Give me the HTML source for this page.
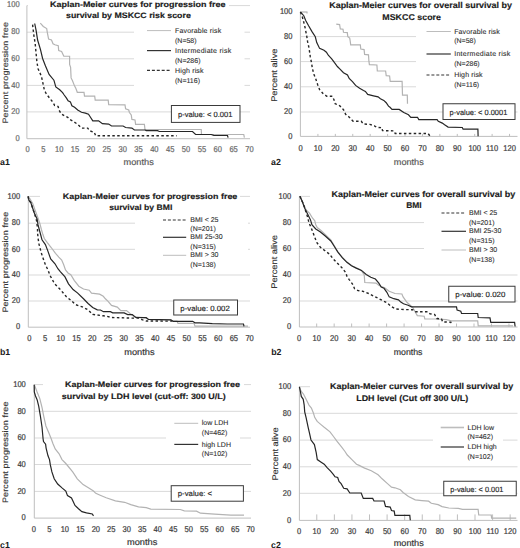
<!DOCTYPE html>
<html><head><meta charset="utf-8"><style>
html,body{margin:0;padding:0;background:#fff;overflow:hidden;}
svg{display:block;}
text{font-family:"Liberation Sans", sans-serif;text-rendering:geometricPrecision;}
.gl{stroke:#d9d9d9;stroke-width:1;}
.ax{stroke:#bfbfbf;stroke-width:1;}
.tk{font-size:8.4px;fill:#3d3d3d;stroke:#3d3d3d;stroke-width:0.22px;}
.yl{font-size:8.2px;fill:#333333;stroke:#333333;stroke-width:0.15px;}
.ti{font-weight:bold;fill:#1a1a1a;stroke:#1a1a1a;stroke-width:0.15px;}
.lg{font-size:7px;fill:#2e2e2e;stroke:#2e2e2e;stroke-width:0.1px;}
.pv{font-size:7.2px;fill:#262626;stroke:#262626;stroke-width:0.15px;}
.mo{font-size:7.6px;fill:#363636;stroke:#363636;stroke-width:0.2px;}
.pa1 .tk{fill:#6a6a6a;stroke:#6a6a6a;}
.pa1 .mo,.pa2 .mo{fill:#5a5a5a;stroke:#5a5a5a;}
.pa1 .yl{fill:#3c3c3c;stroke:#3c3c3c;}
.tag{font-size:8.8px;font-weight:bold;fill:#1a1a1a;}
.cg{fill:none;stroke:#b3b3b3;stroke-width:1.2;}
.cb{fill:none;stroke:#262626;stroke-width:1.2;}
.cd{fill:none;stroke:#262626;stroke-width:1.4;stroke-dasharray:2.5,2.4;}
</style></head>
<body><svg width="520" height="548" viewBox="0 0 520 548">
<g id="a1" class="pa1">
<line x1="26.9" y1="111.90" x2="250" y2="111.90" class="gl"/>
<line x1="26.9" y1="85.40" x2="250" y2="85.40" class="gl"/>
<line x1="26.9" y1="58.80" x2="250" y2="58.80" class="gl"/>
<line x1="26.9" y1="32.20" x2="250" y2="32.20" class="gl"/>
<line x1="26.9" y1="5.60" x2="250" y2="5.60" class="gl"/>
<rect x="28" y="0" width="201" height="11" fill="#fff"/>
<rect x="40" y="11" width="160" height="12" fill="#fff"/>
<rect x="134" y="24" width="110.5" height="66" fill="#fff"/>
<line x1="26.9" y1="5.6" x2="26.9" y2="138.7" class="ax"/>
<line x1="26.9" y1="138.7" x2="250" y2="138.7" class="ax"/>
<polyline class="cg" points="40.30,23.20 43.30,26.50 46.70,28.50 47.20,31.80 48.60,39.00 51.50,40.00 53.00,43.80 54.90,44.80 58.25,45.80 58.70,50.60 61.60,51.50 63.50,55.40 63.80,56.25 69.60,56.25 69.60,64.40 70.60,67.30 71.10,77.90 72.50,80.80 74.40,85.60 75.90,88.50 77.30,92.30 84.00,92.30 84.50,96.20 94.70,96.20 95.20,100.10 108.20,100.10 108.70,104.60 125.00,104.90 125.60,108.75 128.75,110.00 129.40,112.50 131.25,115.00 131.90,119.40 135.00,120.00 135.60,124.40 144.40,124.40 145.00,129.50 201.25,129.50 201.50,134.50 243.75,134.50 244.40,137.60"/>
<polyline class="cb" points="34.70,23.50 36.10,30.40 37.60,40.00 40.50,49.60 42.60,58.50 45.50,66.00 49.10,74.40 53.90,80.20 55.80,86.90 59.70,89.80 62.60,92.70 64.20,95.00 66.50,98.10 68.10,100.80 70.40,101.90 71.90,105.80 74.60,107.30 77.70,110.00 81.50,112.30 85.40,113.10 88.50,114.20 90.00,116.50 92.80,120.80 98.60,120.80 102.40,123.70 108.70,124.10 111.50,126.00 123.10,126.00 125.60,127.50 131.90,128.10 134.40,130.00 145.00,130.00 146.25,130.60 157.50,130.60 159.40,131.50 192.50,131.50 195.60,134.50 211.25,134.50 213.75,135.30 227.50,135.50 228.10,137.60"/>
<polyline class="cd" points="32.60,24.60 33.70,34.20 35.20,43.80 36.10,53.50 36.90,62.00 38.10,68.70 41.40,76.30 42.90,83.10 44.30,89.80 46.20,93.70 50.40,99.20 52.70,101.90 54.60,105.40 58.10,106.50 59.20,110.40 61.20,113.80 64.60,115.80 67.70,117.30 70.00,119.60 73.10,121.20 76.50,123.50 79.20,125.80 81.50,128.10 87.70,128.10 89.60,130.80 94.20,132.30 95.70,135.80 176.60,135.80"/>
<g transform="translate(19.7,140.90) scale(0.9,1)"><text text-anchor="end" class="tk">0</text></g>
<g transform="translate(19.7,114.10) scale(0.9,1)"><text text-anchor="end" class="tk">20</text></g>
<g transform="translate(19.7,87.60) scale(0.9,1)"><text text-anchor="end" class="tk">40</text></g>
<g transform="translate(19.7,61.00) scale(0.9,1)"><text text-anchor="end" class="tk">60</text></g>
<g transform="translate(19.7,34.40) scale(0.9,1)"><text text-anchor="end" class="tk">80</text></g>
<g transform="translate(19.7,6.60) scale(0.9,1)"><text text-anchor="end" class="tk">100</text></g>
<g transform="translate(27.50,151.90) scale(0.9,1)"><text text-anchor="middle" class="tk">0</text></g>
<g transform="translate(43.35,151.90) scale(0.9,1)"><text text-anchor="middle" class="tk">5</text></g>
<g transform="translate(59.21,151.90) scale(0.9,1)"><text text-anchor="middle" class="tk">10</text></g>
<g transform="translate(75.06,151.90) scale(0.9,1)"><text text-anchor="middle" class="tk">15</text></g>
<g transform="translate(90.92,151.90) scale(0.9,1)"><text text-anchor="middle" class="tk">20</text></g>
<g transform="translate(106.77,151.90) scale(0.9,1)"><text text-anchor="middle" class="tk">25</text></g>
<g transform="translate(122.63,151.90) scale(0.9,1)"><text text-anchor="middle" class="tk">30</text></g>
<g transform="translate(138.49,151.90) scale(0.9,1)"><text text-anchor="middle" class="tk">35</text></g>
<g transform="translate(154.34,151.90) scale(0.9,1)"><text text-anchor="middle" class="tk">40</text></g>
<g transform="translate(170.19,151.90) scale(0.9,1)"><text text-anchor="middle" class="tk">45</text></g>
<g transform="translate(186.05,151.90) scale(0.9,1)"><text text-anchor="middle" class="tk">50</text></g>
<g transform="translate(201.91,151.90) scale(0.9,1)"><text text-anchor="middle" class="tk">55</text></g>
<g transform="translate(217.76,151.90) scale(0.9,1)"><text text-anchor="middle" class="tk">60</text></g>
<g transform="translate(233.61,151.90) scale(0.9,1)"><text text-anchor="middle" class="tk">65</text></g>
<g transform="translate(249.47,151.90) scale(0.9,1)"><text text-anchor="middle" class="tk">70</text></g>
<g transform="translate(7.8,123.6) rotate(-90)"><g transform="translate(0.00,0.00) scale(1.1500,1)"><text x="0" y="0" textLength="88.35" lengthAdjust="spacing" class="yl" style="font-size:7.8px">Percent progression free</text></g></g>
<g transform="translate(50.00,6.90) scale(1.1350,1)"><text x="0" y="0" textLength="154.54" lengthAdjust="spacing" class="ti" style="font-size:7.9px">Kaplan-Meier curves for progression free</text></g>
<g transform="translate(66.00,18.30) scale(1.1146,1)"><text x="0" y="0" textLength="111.97" lengthAdjust="spacing" class="ti" style="font-size:7.9px">survival by MSKCC risk score</text></g>
<line x1="147" y1="30.6" x2="171" y2="30.6" stroke="#bdbdbd" stroke-width="1"/>
<text x="175" y="32.70" class="lg" textLength="46.2" lengthAdjust="spacing">Favorable risk</text>
<text x="175" y="42.70" class="lg">(N=58)</text>
<line x1="147" y1="50.6" x2="171" y2="50.6" stroke="#333333" stroke-width="1.2"/>
<text x="175" y="52.70" class="lg" textLength="56.2" lengthAdjust="spacing">Intermediate risk</text>
<text x="175" y="62.70" class="lg">(N=286)</text>
<line x1="147" y1="70.4" x2="171" y2="70.4" stroke="#333333" stroke-width="1.1" stroke-dasharray="3,1.9"/>
<text x="175" y="72.50" class="lg" textLength="28.5" lengthAdjust="spacing">High risk</text>
<text x="175" y="82.50" class="lg">(N=116)</text>
<rect x="171.4" y="105.5" width="68.60" height="16.90" fill="#fff" stroke="#3a3a3a" stroke-width="1"/>
<g transform="translate(178.00,116.95) scale(0.9942,1)"><text x="0" y="0" textLength="54.72" lengthAdjust="spacing" class="pv" style="font-size:7.6px">p-value: &lt; 0.001</text></g>
<g transform="translate(123.60,165.00) scale(1.0465,1)"><text x="0" y="0" textLength="28.86" lengthAdjust="spacing" class="mo" style="font-size:8.8px">months</text></g>
<text x="0" y="164.5" class="tag">a1</text>
</g>
<g id="a2" class="pa2">
<line x1="300.4" y1="112.00" x2="517.5" y2="112.00" class="gl"/>
<line x1="300.4" y1="86.80" x2="517.5" y2="86.80" class="gl"/>
<line x1="300.4" y1="61.60" x2="517.5" y2="61.60" class="gl"/>
<line x1="300.4" y1="36.60" x2="517.5" y2="36.60" class="gl"/>
<line x1="300.4" y1="12.00" x2="517.5" y2="12.00" class="gl"/>
<line x1="317.92" y1="133.90" x2="317.92" y2="136.40" class="ax"/>
<line x1="335.34" y1="133.90" x2="335.34" y2="136.40" class="ax"/>
<line x1="352.76" y1="133.90" x2="352.76" y2="136.40" class="ax"/>
<line x1="370.18" y1="133.90" x2="370.18" y2="136.40" class="ax"/>
<line x1="387.60" y1="133.90" x2="387.60" y2="136.40" class="ax"/>
<line x1="405.02" y1="133.90" x2="405.02" y2="136.40" class="ax"/>
<line x1="422.44" y1="133.90" x2="422.44" y2="136.40" class="ax"/>
<line x1="439.86" y1="133.90" x2="439.86" y2="136.40" class="ax"/>
<line x1="457.28" y1="133.90" x2="457.28" y2="136.40" class="ax"/>
<line x1="474.70" y1="133.90" x2="474.70" y2="136.40" class="ax"/>
<line x1="492.12" y1="133.90" x2="492.12" y2="136.40" class="ax"/>
<line x1="509.54" y1="133.90" x2="509.54" y2="136.40" class="ax"/>
<rect x="307" y="0" width="213" height="23.6" fill="#fff"/>
<rect x="416" y="23.6" width="104" height="68.4" fill="#fff"/>
<line x1="300.4" y1="12.0" x2="300.4" y2="136.4" class="ax"/>
<line x1="300.4" y1="136.4" x2="517.5" y2="136.4" class="ax"/>
<polyline class="cg" points="300.40,12.00 307.00,12.00 307.00,13.50"/>
<polyline class="cg" points="336.25,24.10 339.60,24.60 340.30,28.90 343.00,29.20 343.50,32.30 347.30,32.60 347.80,36.60 349.70,38.10 350.20,41.00 350.70,44.80 360.30,44.80 360.80,49.10 364.10,49.60 364.60,54.40 368.50,54.80 368.90,61.20 369.40,64.60 376.90,65.00 377.30,71.00 385.60,71.00 386.20,75.60 389.60,76.00 390.20,81.30 402.10,81.30 402.50,95.20 407.30,95.20 407.50,103.80"/>
<polyline class="cb" points="300.40,12.00 303.80,15.70 305.70,20.50 308.60,25.80 312.00,31.60 315.30,36.80 316.75,42.60 319.60,48.40 324.00,50.30 326.40,52.20 328.50,55.50 331.70,58.80 334.50,62.70 337.40,66.50 340.00,69.20 343.50,72.70 347.50,75.00 349.20,78.50 352.70,81.90 355.60,85.40 359.60,88.30 363.50,90.50 365.40,91.50 367.70,94.40 373.50,95.80 378.10,96.90 380.40,98.70 383.80,100.40 386.20,102.70 388.50,106.20 390.00,107.30 392.00,109.40 399.20,109.40 403.80,112.50 408.50,114.80 410.80,117.30 417.50,117.30 418.80,119.60 437.10,119.60 438.30,121.30 442.30,123.10 444.60,124.80 448.10,127.10 462.30,127.50 463.10,129.20 477.90,129.20 478.10,136.30"/>
<polyline class="cd" points="300.40,12.00 302.30,16.70 303.80,22.40 305.20,28.20 306.70,35.90 307.60,41.70 309.10,48.40 310.30,56.90 311.50,62.70 312.40,68.50 313.90,74.20 315.80,79.00 317.70,84.80 319.60,89.60 323.00,93.50 326.80,96.30 332.30,96.30 334.00,99.80 335.20,103.80 338.70,105.00 341.50,107.30 343.80,110.20 345.60,114.20 348.50,116.50 351.90,120.00 353.10,121.20 361.20,121.20 363.50,124.00 369.80,124.40 374.40,125.80 376.70,127.30 381.90,127.70 382.50,130.60 394.00,130.90 395.20,133.50 428.10,133.50 429.80,135.80"/>
<g transform="translate(292.5,138.60) scale(0.9,1)"><text text-anchor="end" class="tk">0</text></g>
<g transform="translate(292.5,114.20) scale(0.9,1)"><text text-anchor="end" class="tk">20</text></g>
<g transform="translate(292.5,89.00) scale(0.9,1)"><text text-anchor="end" class="tk">40</text></g>
<g transform="translate(292.5,63.80) scale(0.9,1)"><text text-anchor="end" class="tk">60</text></g>
<g transform="translate(292.5,38.80) scale(0.9,1)"><text text-anchor="end" class="tk">80</text></g>
<g transform="translate(292.5,14.20) scale(0.9,1)"><text text-anchor="end" class="tk">100</text></g>
<g transform="translate(300.50,150.50) scale(0.9,1)"><text text-anchor="middle" class="tk">0</text></g>
<g transform="translate(317.92,150.50) scale(0.9,1)"><text text-anchor="middle" class="tk">10</text></g>
<g transform="translate(335.34,150.50) scale(0.9,1)"><text text-anchor="middle" class="tk">20</text></g>
<g transform="translate(352.76,150.50) scale(0.9,1)"><text text-anchor="middle" class="tk">30</text></g>
<g transform="translate(370.18,150.50) scale(0.9,1)"><text text-anchor="middle" class="tk">40</text></g>
<g transform="translate(387.60,150.50) scale(0.9,1)"><text text-anchor="middle" class="tk">50</text></g>
<g transform="translate(405.02,150.50) scale(0.9,1)"><text text-anchor="middle" class="tk">60</text></g>
<g transform="translate(422.44,150.50) scale(0.9,1)"><text text-anchor="middle" class="tk">70</text></g>
<g transform="translate(439.86,150.50) scale(0.9,1)"><text text-anchor="middle" class="tk">80</text></g>
<g transform="translate(457.28,150.50) scale(0.9,1)"><text text-anchor="middle" class="tk">90</text></g>
<g transform="translate(474.70,150.50) scale(0.9,1)"><text text-anchor="middle" class="tk">100</text></g>
<g transform="translate(492.12,150.50) scale(0.9,1)"><text text-anchor="middle" class="tk">110</text></g>
<g transform="translate(509.54,150.50) scale(0.9,1)"><text text-anchor="middle" class="tk">120</text></g>
<g transform="translate(276.9,101.8) rotate(-90)"><g transform="translate(0.00,0.00) scale(1.1223,1)"><text x="0" y="0" textLength="47.40" lengthAdjust="spacing" class="yl" style="font-size:8.2px">Percent alive</text></g></g>
<g transform="translate(329.20,8.10) scale(1.0669,1)"><text x="0" y="0" textLength="171.34" lengthAdjust="spacing" class="ti" style="font-size:8.4px">Kaplan-Meier curves for overall survival by</text></g>
<g transform="translate(382.30,19.50) scale(1.0567,1)"><text x="0" y="0" textLength="55.55" lengthAdjust="spacing" class="ti" style="font-size:8.4px">MSKCC score</text></g>
<line x1="426.5" y1="31.5" x2="450.8" y2="31.5" stroke="#bdbdbd" stroke-width="1"/>
<text x="454.2" y="33.60" class="lg" textLength="45.5" lengthAdjust="spacing">Favorable risk</text>
<text x="454.2" y="43.10" class="lg">(N=58)</text>
<line x1="426.5" y1="54" x2="450.8" y2="54" stroke="#333333" stroke-width="1.2"/>
<text x="454.2" y="56.10" class="lg" textLength="56.1" lengthAdjust="spacing">Intermediate risk</text>
<text x="454.2" y="65.60" class="lg">(N=286)</text>
<line x1="426.5" y1="75" x2="450.8" y2="75" stroke="#333333" stroke-width="1.1" stroke-dasharray="3,1.9"/>
<text x="454.2" y="77.10" class="lg" textLength="28.4" lengthAdjust="spacing">High risk</text>
<text x="454.2" y="86.60" class="lg">(N=116)</text>
<rect x="443" y="103.75" width="72.00" height="15.75" fill="#fff" stroke="#3a3a3a" stroke-width="1"/>
<g transform="translate(449.60,114.62) scale(0.9789,1)"><text x="0" y="0" textLength="58.94" lengthAdjust="spacing" class="pv" style="font-size:7.6px">p-value: &lt; 0.0001</text></g>
<g transform="translate(393.80,164.60) scale(1.0396,1)"><text x="0" y="0" textLength="28.86" lengthAdjust="spacing" class="mo" style="font-size:8.8px">months</text></g>
<text x="271" y="164.8" class="tag">a2</text>
</g>
<g id="b1" class="pb1">
<line x1="28.3" y1="301.00" x2="250" y2="301.00" class="gl"/>
<line x1="28.3" y1="275.00" x2="250" y2="275.00" class="gl"/>
<line x1="28.3" y1="249.30" x2="250" y2="249.30" class="gl"/>
<line x1="28.3" y1="223.20" x2="250" y2="223.20" class="gl"/>
<line x1="28.3" y1="196.40" x2="250" y2="196.40" class="gl"/>
<rect x="40" y="188" width="200" height="25" fill="#fff"/>
<rect x="135" y="213" width="113" height="57" fill="#fff"/>
<line x1="28.3" y1="196.4" x2="28.3" y2="327.2" class="ax"/>
<line x1="28.3" y1="327.2" x2="250" y2="327.2" class="ax"/>
<polyline class="cg" points="28.10,196.30 29.80,198.70 32.70,203.50 35.10,210.30 38.00,218.00 39.90,223.70 41.40,229.50 42.80,234.30 44.30,238.50 47.30,242.70 51.20,247.50 55.50,253.30 58.80,257.10 61.70,260.00 63.70,264.80 65.50,270.00 68.00,273.00 70.80,274.80 74.20,280.40 78.80,286.20 83.50,289.00 89.20,290.20 91.50,293.10 99.60,294.20 103.30,296.30 105.40,298.80 108.10,301.30 111.50,305.40 117.30,307.10 120.80,310.60 126.50,310.60 130.00,313.50 134.60,316.90 146.00,317.90 148.50,319.50 170.80,319.80 173.10,321.20 177.00,321.20 178.00,323.40 194.00,323.40 195.00,326.20 248.00,326.20"/>
<polyline class="cb" points="28.10,196.30 28.90,200.20 30.80,202.60 32.70,208.30 34.70,214.10 37.10,218.90 38.00,224.70 39.50,230.50 41.00,236.00 42.00,239.80 45.40,244.60 47.80,250.90 50.70,259.00 55.00,263.80 57.90,268.70 60.50,271.80 65.00,276.90 68.50,283.80 73.10,289.60 77.70,293.10 83.50,298.80 88.10,303.50 92.70,307.50 97.30,309.80 100.40,310.00 103.50,311.70 110.40,311.70 112.70,312.90 124.20,312.90 127.70,314.60 132.30,314.60 135.80,317.50 146.20,317.70 148.50,319.40 170.80,319.80 173.10,321.30 192.70,321.30 195.00,322.80 199.60,322.90 212.30,323.70 227.30,324.00 243.50,324.00 244.00,326.30"/>
<polyline class="cd" points="28.10,196.30 28.90,200.20 30.80,202.60 32.70,208.30 34.70,214.10 36.60,220.80 37.50,228.50 37.60,233.30 38.20,239.10 39.10,244.60 41.10,252.30 43.00,258.10 45.40,264.80 47.80,269.60 50.20,275.80 54.60,283.80 60.40,289.60 66.20,296.50 71.90,301.20 75.40,304.60 82.30,306.90 88.10,309.80 92.70,314.40 97.30,315.00 103.10,315.80 106.90,316.30 111.50,317.50 132.30,318.10 138.10,318.10 142.70,319.80 146.20,321.00 167.30,321.10 172.00,321.00"/>
<g transform="translate(20.2,329.40) scale(0.9,1)"><text text-anchor="end" class="tk">0</text></g>
<g transform="translate(20.2,303.20) scale(0.9,1)"><text text-anchor="end" class="tk">20</text></g>
<g transform="translate(20.2,277.20) scale(0.9,1)"><text text-anchor="end" class="tk">40</text></g>
<g transform="translate(20.2,251.50) scale(0.9,1)"><text text-anchor="end" class="tk">60</text></g>
<g transform="translate(20.2,225.40) scale(0.9,1)"><text text-anchor="end" class="tk">80</text></g>
<g transform="translate(20.2,198.60) scale(0.9,1)"><text text-anchor="end" class="tk">100</text></g>
<g transform="translate(29.25,340.50) scale(0.9,1)"><text text-anchor="middle" class="tk">0</text></g>
<g transform="translate(44.99,340.50) scale(0.9,1)"><text text-anchor="middle" class="tk">5</text></g>
<g transform="translate(60.73,340.50) scale(0.9,1)"><text text-anchor="middle" class="tk">10</text></g>
<g transform="translate(76.47,340.50) scale(0.9,1)"><text text-anchor="middle" class="tk">15</text></g>
<g transform="translate(92.21,340.50) scale(0.9,1)"><text text-anchor="middle" class="tk">20</text></g>
<g transform="translate(107.95,340.50) scale(0.9,1)"><text text-anchor="middle" class="tk">25</text></g>
<g transform="translate(123.69,340.50) scale(0.9,1)"><text text-anchor="middle" class="tk">30</text></g>
<g transform="translate(139.43,340.50) scale(0.9,1)"><text text-anchor="middle" class="tk">35</text></g>
<g transform="translate(155.17,340.50) scale(0.9,1)"><text text-anchor="middle" class="tk">40</text></g>
<g transform="translate(170.91,340.50) scale(0.9,1)"><text text-anchor="middle" class="tk">45</text></g>
<g transform="translate(186.65,340.50) scale(0.9,1)"><text text-anchor="middle" class="tk">50</text></g>
<g transform="translate(202.39,340.50) scale(0.9,1)"><text text-anchor="middle" class="tk">55</text></g>
<g transform="translate(218.13,340.50) scale(0.9,1)"><text text-anchor="middle" class="tk">60</text></g>
<g transform="translate(233.87,340.50) scale(0.9,1)"><text text-anchor="middle" class="tk">65</text></g>
<g transform="translate(249.61,340.50) scale(0.9,1)"><text text-anchor="middle" class="tk">70</text></g>
<g transform="translate(7.7,312.6) rotate(-90)"><g transform="translate(0.00,0.00) scale(1.1500,1)"><text x="0" y="0" textLength="87.65" lengthAdjust="spacing" class="yl" style="font-size:7.8px">Percent progression free</text></g></g>
<g transform="translate(62.80,198.90) scale(1.1292,1)"><text x="0" y="0" textLength="154.54" lengthAdjust="spacing" class="ti" style="font-size:7.9px">Kaplan-Meier curves for progression free</text></g>
<g transform="translate(109.20,210.30) scale(1.0888,1)"><text x="0" y="0" textLength="57.95" lengthAdjust="spacing" class="ti" style="font-size:7.9px">survival by BMI</text></g>
<line x1="163" y1="220" x2="186.2" y2="220" stroke="#333333" stroke-width="1.1" stroke-dasharray="3,1.9"/>
<text x="190.3" y="222.10" class="lg">BMI &lt; 25</text>
<text x="190.3" y="231.40" class="lg">(N=201)</text>
<line x1="163" y1="237.3" x2="186.2" y2="237.3" stroke="#333333" stroke-width="1.2"/>
<text x="190.3" y="239.40" class="lg">BMI 25-30</text>
<text x="190.3" y="248.70" class="lg">(N=315)</text>
<line x1="163" y1="255.3" x2="186.2" y2="255.3" stroke="#bdbdbd" stroke-width="1"/>
<text x="190.3" y="257.40" class="lg">BMI &gt; 30</text>
<text x="190.3" y="266.70" class="lg">(N=138)</text>
<rect x="173.75" y="300" width="63.75" height="15.00" fill="#fff" stroke="#3a3a3a" stroke-width="1"/>
<g transform="translate(180.35,310.50) scale(1.0256,1)"><text x="0" y="0" textLength="48.17" lengthAdjust="spacing" class="pv" style="font-size:7.6px">p-value: 0.002</text></g>
<g transform="translate(124.30,355.00) scale(1.0500,1)"><text x="0" y="0" textLength="28.86" lengthAdjust="spacing" class="mo" style="font-size:8.8px">months</text></g>
<text x="0" y="355.3" class="tag">b1</text>
</g>
<g id="b2" class="pb2">
<line x1="299.4" y1="301.00" x2="517.5" y2="301.00" class="gl"/>
<line x1="299.4" y1="275.00" x2="517.5" y2="275.00" class="gl"/>
<line x1="299.4" y1="248.50" x2="517.5" y2="248.50" class="gl"/>
<line x1="299.4" y1="222.60" x2="517.5" y2="222.60" class="gl"/>
<line x1="299.4" y1="196.40" x2="517.5" y2="196.40" class="gl"/>
<line x1="316.68" y1="323.50" x2="316.68" y2="327.00" class="ax"/>
<line x1="334.16" y1="323.50" x2="334.16" y2="327.00" class="ax"/>
<line x1="351.64" y1="323.50" x2="351.64" y2="327.00" class="ax"/>
<line x1="369.12" y1="323.50" x2="369.12" y2="327.00" class="ax"/>
<line x1="386.60" y1="323.50" x2="386.60" y2="327.00" class="ax"/>
<line x1="404.08" y1="323.50" x2="404.08" y2="327.00" class="ax"/>
<line x1="421.56" y1="323.50" x2="421.56" y2="327.00" class="ax"/>
<line x1="439.04" y1="323.50" x2="439.04" y2="327.00" class="ax"/>
<line x1="456.52" y1="323.50" x2="456.52" y2="327.00" class="ax"/>
<line x1="474.00" y1="323.50" x2="474.00" y2="327.00" class="ax"/>
<line x1="491.48" y1="323.50" x2="491.48" y2="327.00" class="ax"/>
<line x1="508.96" y1="323.50" x2="508.96" y2="327.00" class="ax"/>
<rect x="310" y="186" width="210" height="24" fill="#fff"/>
<rect x="424" y="205" width="96" height="61" fill="#fff"/>
<line x1="299.4" y1="196.4" x2="299.4" y2="327.0" class="ax"/>
<line x1="299.4" y1="327.0" x2="517.5" y2="327.0" class="ax"/>
<polyline class="cg" points="299.90,196.30 302.30,201.60 304.70,207.50 306.60,210.30 309.50,213.20 312.40,218.00 314.80,220.80 315.75,224.70 317.20,227.60 321.00,230.50 324.90,234.30 330.80,240.00 334.20,245.50 337.70,251.50 342.30,257.50 346.90,262.00 351.50,265.50 356.20,267.80 360.80,270.00 364.20,274.60 364.80,282.50 376.00,283.10 379.00,285.50 384.60,287.70 389.20,291.20 395.00,293.50 401.90,294.00 403.10,296.90 406.90,302.30 412.70,307.50 417.30,315.60 424.20,316.20 424.80,319.00 435.80,319.00 446.20,319.60 451.50,320.80 477.70,320.80 478.20,325.80 513.00,325.80"/>
<polyline class="cb" points="299.90,196.30 302.30,201.60 304.70,208.30 307.60,214.10 310.50,219.90 311.90,224.70 315.75,229.00 320.10,231.80 325.00,235.80 330.80,241.00 334.20,246.20 337.70,251.90 342.30,257.70 346.90,262.30 351.50,265.80 356.20,268.10 361.50,270.40 366.20,274.40 370.80,277.30 375.40,279.00 378.80,283.10 381.20,287.10 384.00,288.30 386.90,292.30 389.20,296.90 393.80,298.70 398.50,299.80 400.80,302.10 403.50,303.80 408.10,305.20 411.50,306.90 456.50,306.90 457.10,310.10 460.80,311.20 461.50,313.50 477.70,313.50 478.20,317.50 490.00,317.80 490.80,322.40 514.60,322.40 515.10,326.50"/>
<polyline class="cd" points="299.90,196.30 302.30,201.60 304.70,207.50 305.70,211.20 307.60,217.00 309.00,222.80 311.40,228.50 312.80,232.00 314.60,236.90 316.90,242.70 320.40,247.30 325.00,250.80 329.60,254.20 333.10,258.80 337.70,263.50 342.30,268.10 345.80,272.70 346.90,276.20 349.20,279.60 352.50,284.00 354.60,288.80 358.10,290.60 362.70,291.20 368.50,293.50 373.10,295.80 377.70,298.10 382.30,300.40 386.90,302.70 391.50,306.70 396.20,309.00 400.80,309.40 412.70,309.80 415.00,311.80 427.70,311.80 430.00,313.80 434.60,314.40 436.90,318.50 441.50,319.00 442.70,321.90 450.80,322.20 451.30,324.20"/>
<g transform="translate(291.2,329.20) scale(0.9,1)"><text text-anchor="end" class="tk">0</text></g>
<g transform="translate(291.2,303.20) scale(0.9,1)"><text text-anchor="end" class="tk">20</text></g>
<g transform="translate(291.2,277.20) scale(0.9,1)"><text text-anchor="end" class="tk">40</text></g>
<g transform="translate(291.2,250.70) scale(0.9,1)"><text text-anchor="end" class="tk">60</text></g>
<g transform="translate(291.2,224.80) scale(0.9,1)"><text text-anchor="end" class="tk">80</text></g>
<g transform="translate(291.2,198.60) scale(0.9,1)"><text text-anchor="end" class="tk">100</text></g>
<g transform="translate(299.20,340.50) scale(0.9,1)"><text text-anchor="middle" class="tk">0</text></g>
<g transform="translate(316.68,340.50) scale(0.9,1)"><text text-anchor="middle" class="tk">10</text></g>
<g transform="translate(334.16,340.50) scale(0.9,1)"><text text-anchor="middle" class="tk">20</text></g>
<g transform="translate(351.64,340.50) scale(0.9,1)"><text text-anchor="middle" class="tk">30</text></g>
<g transform="translate(369.12,340.50) scale(0.9,1)"><text text-anchor="middle" class="tk">40</text></g>
<g transform="translate(386.60,340.50) scale(0.9,1)"><text text-anchor="middle" class="tk">50</text></g>
<g transform="translate(404.08,340.50) scale(0.9,1)"><text text-anchor="middle" class="tk">60</text></g>
<g transform="translate(421.56,340.50) scale(0.9,1)"><text text-anchor="middle" class="tk">70</text></g>
<g transform="translate(439.04,340.50) scale(0.9,1)"><text text-anchor="middle" class="tk">80</text></g>
<g transform="translate(456.52,340.50) scale(0.9,1)"><text text-anchor="middle" class="tk">90</text></g>
<g transform="translate(474.00,340.50) scale(0.9,1)"><text text-anchor="middle" class="tk">100</text></g>
<g transform="translate(491.48,340.50) scale(0.9,1)"><text text-anchor="middle" class="tk">110</text></g>
<g transform="translate(508.96,340.50) scale(0.9,1)"><text text-anchor="middle" class="tk">120</text></g>
<g transform="translate(277.4,288.8) rotate(-90)"><g transform="translate(0.00,0.00) scale(1.1350,1)"><text x="0" y="0" textLength="47.40" lengthAdjust="spacing" class="yl" style="font-size:8.2px">Percent alive</text></g></g>
<g transform="translate(331.50,196.80) scale(1.0733,1)"><text x="0" y="0" textLength="171.34" lengthAdjust="spacing" class="ti" style="font-size:8.4px">Kaplan-Meier curves for overall survival by</text></g>
<g transform="translate(406.20,208.00) scale(1.0067,1)"><text x="0" y="0" textLength="15.40" lengthAdjust="spacing" class="ti" style="font-size:8.4px">BMI</text></g>
<line x1="441.5" y1="213" x2="466" y2="213" stroke="#333333" stroke-width="1.1" stroke-dasharray="3,1.9"/>
<text x="469" y="215.10" class="lg">BMI &lt; 25</text>
<text x="469" y="224.50" class="lg">(N=201)</text>
<line x1="441.5" y1="231.3" x2="466" y2="231.3" stroke="#333333" stroke-width="1.2"/>
<text x="469" y="233.40" class="lg">BMI 25-30</text>
<text x="469" y="242.80" class="lg">(N=315)</text>
<line x1="441.5" y1="250" x2="466" y2="250" stroke="#bdbdbd" stroke-width="1"/>
<text x="469" y="252.10" class="lg">BMI &gt; 30</text>
<text x="469" y="261.50" class="lg">(N=138)</text>
<rect x="448.75" y="286.25" width="66.25" height="15.75" fill="#fff" stroke="#3a3a3a" stroke-width="1"/>
<g transform="translate(455.35,297.12) scale(1.0380,1)"><text x="0" y="0" textLength="48.17" lengthAdjust="spacing" class="pv" style="font-size:7.6px">p-value: 0.020</text></g>
<g transform="translate(393.75,354.50) scale(0.9963,1)"><text x="0" y="0" textLength="28.86" lengthAdjust="spacing" class="mo" style="font-size:8.8px">months</text></g>
<text x="271.25" y="355.3" class="tag">b2</text>
</g>
<g id="c1" class="pc1">
<line x1="34.3" y1="491.40" x2="251" y2="491.40" class="gl"/>
<line x1="34.3" y1="464.50" x2="251" y2="464.50" class="gl"/>
<line x1="34.3" y1="438.00" x2="251" y2="438.00" class="gl"/>
<line x1="34.3" y1="411.30" x2="251" y2="411.30" class="gl"/>
<line x1="34.3" y1="384.60" x2="251" y2="384.60" class="gl"/>
<rect x="43" y="376" width="201" height="26" fill="#fff"/>
<rect x="166" y="415" width="74" height="45" fill="#fff"/>
<line x1="34.3" y1="384.6" x2="34.3" y2="518.1" class="ax"/>
<line x1="34.3" y1="518.1" x2="251" y2="518.1" class="ax"/>
<polyline class="cg" points="34.30,384.80 35.20,387.00 37.10,392.00 39.80,398.60 42.00,407.40 43.70,416.10 45.90,426.00 49.10,433.60 51.30,439.00 52.80,443.30 55.20,449.00 59.10,453.80 62.00,459.60 65.80,463.50 68.30,466.50 72.70,471.90 77.30,478.80 83.10,484.60 88.80,488.10 93.50,491.00 95.80,493.30 100.20,495.20 106.20,497.70 115.40,500.80 124.60,502.30 130.80,504.60 138.50,506.90 146.20,507.70 150.80,509.10 180.30,509.50 184.30,510.80 196.50,511.20 200.50,513.20 214.60,514.20 226.80,514.80 230.80,515.20 244.00,515.20"/>
<polyline class="cb" points="34.20,384.80 34.30,392.00 35.50,396.00 37.10,399.70 38.75,406.30 40.40,416.10 42.00,427.00 43.10,439.00 43.50,441.50 45.60,444.20 46.10,448.10 48.00,455.80 49.50,459.60 50.30,464.70 51.90,471.90 54.20,478.80 57.70,484.00 62.30,488.10 65.80,491.00 67.50,495.60 71.50,497.90 75.00,505.40 78.50,508.80 81.90,511.70 86.50,512.90 92.30,514.00 93.50,515.80"/>
<g transform="translate(25.8,520.30) scale(0.9,1)"><text text-anchor="end" class="tk">0</text></g>
<g transform="translate(25.8,493.60) scale(0.9,1)"><text text-anchor="end" class="tk">20</text></g>
<g transform="translate(25.8,466.70) scale(0.9,1)"><text text-anchor="end" class="tk">40</text></g>
<g transform="translate(25.8,440.20) scale(0.9,1)"><text text-anchor="end" class="tk">60</text></g>
<g transform="translate(25.8,413.50) scale(0.9,1)"><text text-anchor="end" class="tk">80</text></g>
<g transform="translate(25.8,386.80) scale(0.9,1)"><text text-anchor="end" class="tk">100</text></g>
<g transform="translate(33.90,532.25) scale(0.9,1)"><text text-anchor="middle" class="tk">0</text></g>
<g transform="translate(49.38,532.25) scale(0.9,1)"><text text-anchor="middle" class="tk">5</text></g>
<g transform="translate(64.86,532.25) scale(0.9,1)"><text text-anchor="middle" class="tk">10</text></g>
<g transform="translate(80.34,532.25) scale(0.9,1)"><text text-anchor="middle" class="tk">15</text></g>
<g transform="translate(95.82,532.25) scale(0.9,1)"><text text-anchor="middle" class="tk">20</text></g>
<g transform="translate(111.30,532.25) scale(0.9,1)"><text text-anchor="middle" class="tk">25</text></g>
<g transform="translate(126.78,532.25) scale(0.9,1)"><text text-anchor="middle" class="tk">30</text></g>
<g transform="translate(142.26,532.25) scale(0.9,1)"><text text-anchor="middle" class="tk">35</text></g>
<g transform="translate(157.74,532.25) scale(0.9,1)"><text text-anchor="middle" class="tk">40</text></g>
<g transform="translate(173.22,532.25) scale(0.9,1)"><text text-anchor="middle" class="tk">45</text></g>
<g transform="translate(188.70,532.25) scale(0.9,1)"><text text-anchor="middle" class="tk">50</text></g>
<g transform="translate(204.18,532.25) scale(0.9,1)"><text text-anchor="middle" class="tk">55</text></g>
<g transform="translate(219.66,532.25) scale(0.9,1)"><text text-anchor="middle" class="tk">60</text></g>
<g transform="translate(235.14,532.25) scale(0.9,1)"><text text-anchor="middle" class="tk">65</text></g>
<g transform="translate(250.62,532.25) scale(0.9,1)"><text text-anchor="middle" class="tk">70</text></g>
<g transform="translate(7.6,503.0) rotate(-90)"><g transform="translate(0.00,0.00) scale(1.1500,1)"><text x="0" y="0" textLength="88.26" lengthAdjust="spacing" class="yl" style="font-size:7.8px">Percent progression free</text></g></g>
<g transform="translate(65.10,387.10) scale(1.1311,1)"><text x="0" y="0" textLength="154.54" lengthAdjust="spacing" class="ti" style="font-size:7.9px">Kaplan-Meier curves for progression free</text></g>
<g transform="translate(61.70,398.60) scale(1.1362,1)"><text x="0" y="0" textLength="144.43" lengthAdjust="spacing" class="ti" style="font-size:7.9px">survival by LDH level (cut-off: 300 U/L)</text></g>
<line x1="174.3" y1="423.3" x2="198.2" y2="423.3" stroke="#bdbdbd" stroke-width="1"/>
<text x="201.8" y="425.40" class="lg">low LDH</text>
<text x="201.8" y="435.00" class="lg">(N=462)</text>
<line x1="174.3" y1="444.4" x2="198.2" y2="444.4" stroke="#333333" stroke-width="1.2"/>
<text x="201.8" y="446.50" class="lg">high LDH</text>
<text x="201.8" y="456.10" class="lg">(N=102)</text>
<rect x="171.2" y="485.7" width="72.20" height="15.50" fill="#fff" stroke="#3a3a3a" stroke-width="1"/>
<g transform="translate(177.80,496.45) scale(1.0212,1)"><text x="0" y="0" textLength="33.59" lengthAdjust="spacing" class="pv" style="font-size:7.6px">p-value: &lt;</text></g>
<g transform="translate(127.00,544.80) scale(1.0500,1)"><text x="0" y="0" textLength="28.86" lengthAdjust="spacing" class="mo" style="font-size:8.8px">months</text></g>
<text x="0" y="548" class="tag">c1</text>
</g>
<g id="c2" class="pc2">
<line x1="299.4" y1="493.30" x2="517.5" y2="493.30" class="gl"/>
<line x1="299.4" y1="466.80" x2="517.5" y2="466.80" class="gl"/>
<line x1="299.4" y1="440.10" x2="517.5" y2="440.10" class="gl"/>
<line x1="299.4" y1="413.30" x2="517.5" y2="413.30" class="gl"/>
<line x1="299.4" y1="386.70" x2="517.5" y2="386.70" class="gl"/>
<line x1="316.78" y1="514.40" x2="316.78" y2="520.40" class="ax"/>
<line x1="334.36" y1="514.40" x2="334.36" y2="520.40" class="ax"/>
<line x1="351.94" y1="514.40" x2="351.94" y2="520.40" class="ax"/>
<line x1="369.52" y1="514.40" x2="369.52" y2="520.40" class="ax"/>
<line x1="387.10" y1="514.40" x2="387.10" y2="520.40" class="ax"/>
<line x1="404.68" y1="514.40" x2="404.68" y2="520.40" class="ax"/>
<line x1="422.26" y1="514.40" x2="422.26" y2="520.40" class="ax"/>
<line x1="439.84" y1="514.40" x2="439.84" y2="520.40" class="ax"/>
<line x1="457.42" y1="514.40" x2="457.42" y2="520.40" class="ax"/>
<line x1="475.00" y1="514.40" x2="475.00" y2="520.40" class="ax"/>
<line x1="492.58" y1="514.40" x2="492.58" y2="520.40" class="ax"/>
<line x1="510.16" y1="514.40" x2="510.16" y2="520.40" class="ax"/>
<rect x="310" y="378" width="210" height="27" fill="#fff"/>
<rect x="433" y="418" width="70" height="44" fill="#fff"/>
<line x1="299.4" y1="386.7" x2="299.4" y2="520.4" class="ax"/>
<line x1="299.4" y1="520.4" x2="517.5" y2="520.4" class="ax"/>
<polyline class="cg" points="299.40,386.80 300.80,390.70 303.70,394.50 306.60,400.30 309.00,405.10 311.40,408.00 313.30,412.80 314.80,417.60 317.20,421.40 321.00,424.60 324.20,427.30 330.00,431.90 333.50,436.50 336.90,441.20 341.50,446.90 345.00,451.50 347.30,455.00 351.90,459.60 356.50,464.20 359.20,465.40 364.60,468.10 371.30,470.80 378.10,474.80 382.10,478.80 387.50,483.60 391.50,487.20 395.00,487.80 400.40,489.80 403.10,492.50 408.50,496.50 415.20,499.90 421.90,500.60 428.60,501.20 431.30,503.30 438.10,504.60 442.10,506.60 448.80,508.00 458.30,508.30 462.50,509.40 478.10,509.40 478.75,515.00 491.25,515.00 491.60,518.10 516.25,518.10"/>
<polyline class="cb" points="299.40,386.80 300.40,391.60 301.30,396.40 303.25,399.30 304.20,405.10 304.70,411.80 306.10,417.60 307.10,422.40 308.10,427.20 309.20,431.90 311.00,440.00 314.40,444.60 316.20,452.70 317.30,459.60 320.80,461.90 324.20,464.20 327.10,467.70 330.60,471.20 333.50,474.60 335.00,476.80 337.70,477.50 339.00,481.50 341.10,483.60 343.70,488.30 347.10,488.90 349.80,493.00 361.20,493.00 363.30,498.40 372.70,498.40 374.00,501.00 384.10,501.00 385.50,506.40 390.20,507.10 391.50,510.50 394.20,511.10 394.90,515.40 409.80,515.40 410.30,520.30"/>
<g transform="translate(291.2,522.60) scale(0.9,1)"><text text-anchor="end" class="tk">0</text></g>
<g transform="translate(291.2,495.50) scale(0.9,1)"><text text-anchor="end" class="tk">20</text></g>
<g transform="translate(291.2,469.00) scale(0.9,1)"><text text-anchor="end" class="tk">40</text></g>
<g transform="translate(291.2,442.30) scale(0.9,1)"><text text-anchor="end" class="tk">60</text></g>
<g transform="translate(291.2,415.50) scale(0.9,1)"><text text-anchor="end" class="tk">80</text></g>
<g transform="translate(291.2,388.90) scale(0.9,1)"><text text-anchor="end" class="tk">100</text></g>
<g transform="translate(299.20,533.75) scale(0.9,1)"><text text-anchor="middle" class="tk">0</text></g>
<g transform="translate(316.78,533.75) scale(0.9,1)"><text text-anchor="middle" class="tk">10</text></g>
<g transform="translate(334.36,533.75) scale(0.9,1)"><text text-anchor="middle" class="tk">20</text></g>
<g transform="translate(351.94,533.75) scale(0.9,1)"><text text-anchor="middle" class="tk">30</text></g>
<g transform="translate(369.52,533.75) scale(0.9,1)"><text text-anchor="middle" class="tk">40</text></g>
<g transform="translate(387.10,533.75) scale(0.9,1)"><text text-anchor="middle" class="tk">50</text></g>
<g transform="translate(404.68,533.75) scale(0.9,1)"><text text-anchor="middle" class="tk">60</text></g>
<g transform="translate(422.26,533.75) scale(0.9,1)"><text text-anchor="middle" class="tk">70</text></g>
<g transform="translate(439.84,533.75) scale(0.9,1)"><text text-anchor="middle" class="tk">80</text></g>
<g transform="translate(457.42,533.75) scale(0.9,1)"><text text-anchor="middle" class="tk">90</text></g>
<g transform="translate(475.00,533.75) scale(0.9,1)"><text text-anchor="middle" class="tk">100</text></g>
<g transform="translate(492.58,533.75) scale(0.9,1)"><text text-anchor="middle" class="tk">110</text></g>
<g transform="translate(510.16,533.75) scale(0.9,1)"><text text-anchor="middle" class="tk">120</text></g>
<g transform="translate(277.8,480.6) rotate(-90)"><g transform="translate(0.00,0.00) scale(1.1202,1)"><text x="0" y="0" textLength="47.40" lengthAdjust="spacing" class="yl" style="font-size:8.2px">Percent alive</text></g></g>
<g transform="translate(330.10,389.00) scale(1.0692,1)"><text x="0" y="0" textLength="171.34" lengthAdjust="spacing" class="ti" style="font-size:8.4px">Kaplan-Meier curves for overall survival by</text></g>
<g transform="translate(356.20,400.50) scale(1.0618,1)"><text x="0" y="0" textLength="105.48" lengthAdjust="spacing" class="ti" style="font-size:8.4px">LDH level (Cut off 300 U/L)</text></g>
<line x1="440.7" y1="427.5" x2="464" y2="427.5" stroke="#bdbdbd" stroke-width="1.6"/>
<text x="467.5" y="429.60" class="lg">LDH low</text>
<text x="467.5" y="439.40" class="lg">(N=462)</text>
<line x1="440.7" y1="447" x2="464" y2="447" stroke="#333333" stroke-width="1.2"/>
<text x="467.5" y="449.10" class="lg">LDH high</text>
<text x="467.5" y="458.90" class="lg">(N=102)</text>
<rect x="443.75" y="481.25" width="72.50" height="14.50" fill="#fff" stroke="#3a3a3a" stroke-width="1"/>
<g transform="translate(450.35,491.50) scale(0.9686,1)"><text x="0" y="0" textLength="54.72" lengthAdjust="spacing" class="pv" style="font-size:7.6px">p-value: &lt; 0.001</text></g>
<g transform="translate(393.75,546.00) scale(1.0396,1)"><text x="0" y="0" textLength="28.86" lengthAdjust="spacing" class="mo" style="font-size:8.8px">months</text></g>
<text x="271" y="548" class="tag">c2</text>
</g>
</svg></body></html>
